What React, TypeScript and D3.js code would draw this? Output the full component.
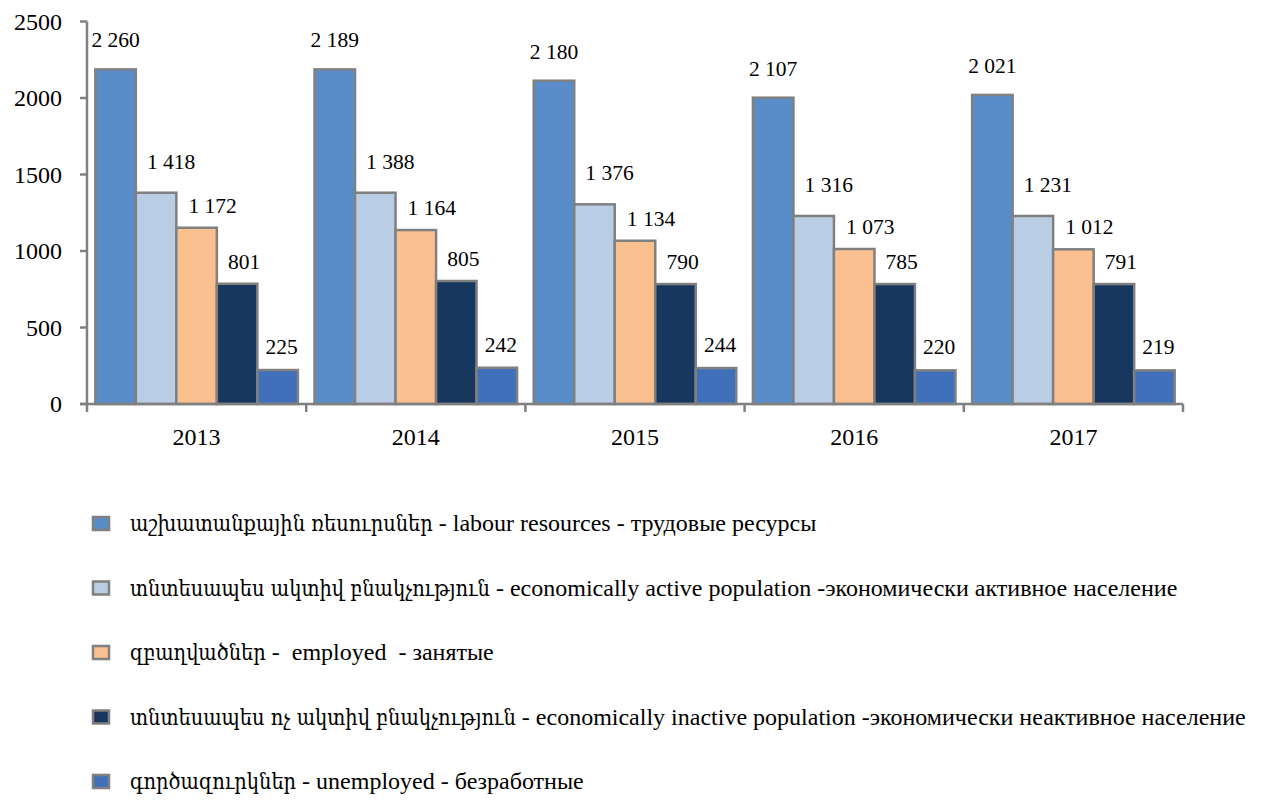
import React, { useLayoutEffect, useRef, useState } from 'react'
import * as d3 from 'd3'

const years = ['2013', '2014', '2015', '2016', '2017']

// bar heights
const labourBars = [2187, 2187, 2113, 2002, 2020]
const activeBars = [1381, 1381, 1305, 1229, 1229]
const employedBars = [1152, 1137, 1067, 1013, 1011]
const inactiveBars = [786, 804, 784, 784, 784]
const unemployedBars = [222, 237, 235, 220, 220]

// data labels printed on the chart
const labourLabels = ['2 260', '2 189', '2 180', '2 107', '2 021']
const activeLabels = ['1 418', '1 388', '1 376', '1 316', '1 231']
const employedLabels = ['1 172', '1 164', '1 134', '1 073', '1 012']
const inactiveLabels = ['801', '805', '790', '785', '791']
const unemployedLabels = ['225', '242', '244', '220', '219']

const yTicks = [0, 500, 1000, 1500, 2000, 2500]

const seriesNames = [
  'աշխատանքային ռեսուրսներ - labour resources - трудовые ресурсы',
  'տնտեսապես ակտիվ բնակչություն - economically active population -экономически активное население',
  'զբաղվածներ -  employed  - занятые',
  'տնտեսապես ոչ ակտիվ բնակչություն - economically inactive population -экономически неактивное население',
  'գործազուրկներ - unemployed - безработные',
]

const colors = ['#588DC9', '#B9CDE5', '#FAC090', '#17375E', '#3F70B9']
// label placement tweaks per series (x shift, gap above bar top)
const labelDx = [0, 15, 16, 7, 4]
const labelGap = [22, 24, 15, 15, 16]

const FONT = "'Liberation Serif'"
const ARM_FONT = "'DejaVu Serif'"
const grey = '#808080'
const armScale = 0.845

const App: React.FC = () => {
  const armRefs = useRef<(SVGTextElement | null)[]>([])
  const [armW, setArmW] = useState<number[]>(seriesNames.map(() => 0))

  useLayoutEffect(() => {
    document.body.style.margin = '0'
    setArmW(armRefs.current.map(n => (n ? n.getComputedTextLength() * armScale : 0)))
  }, [])

  const bars = [labourBars, activeBars, employedBars, inactiveBars, unemployedBars]
  const labels = [labourLabels, activeLabels, employedLabels, inactiveLabels, unemployedLabels]

  const left = 87, right = 1183, base = 404, top = 21.5

  const y = d3.scaleLinear().domain([0, 2500]).range([base, top])
  const x0 = d3.scaleBand<string>()
    .domain(years)
    .range([left, right])
    .paddingInner(0.076)
    .paddingOuter(0.038)
  const x1 = d3.scaleBand<number>()
    .domain(d3.range(bars.length))
    .range([0, x0.bandwidth()])
  const step = x0.step()

  return (
    <svg width={1266} height={803} style={{ display: 'block', background: '#fff' }}>
      {/* bars and value labels */}
      {years.map((yr, i) => (
        <g key={yr}>
          {bars.map((s, k) => {
            const bx = x0(yr)! + x1(k)!
            return (
              <g key={k}>
                <rect x={bx} y={y(s[i])} width={x1.bandwidth()} height={base - y(s[i])}
                  fill={colors[k]} stroke={grey} strokeWidth={2.5} />
                <text x={bx + x1.bandwidth() / 2 + labelDx[k]} y={y(s[i]) - labelGap[k]}
                  textAnchor="middle" fontSize={21.5} style={{ fontFamily: FONT }}>
                  {labels[k][i]}
                </text>
              </g>
            )
          })}
        </g>
      ))}

      {/* y axis */}
      <line x1={left} x2={left} y1={y(2500)} y2={base + 1} stroke={grey} strokeWidth={2.5} />
      {yTicks.map(t => (
        <g key={t}>
          <line x1={left - 7} x2={left} y1={y(t)} y2={y(t)} stroke={grey} strokeWidth={2.5} />
          <text x={62} y={y(t) + 8} textAnchor="end" fontSize={24} style={{ fontFamily: FONT }}>{t}</text>
        </g>
      ))}

      {/* x axis */}
      <line x1={left - 7} x2={right} y1={base} y2={base} stroke={grey} strokeWidth={2.5} />
      {d3.range(years.length + 1).map(j => (
        <line key={j} x1={left + j * step} x2={left + j * step} y1={base} y2={base + 8}
          stroke={grey} strokeWidth={2.5} />
      ))}
      {years.map(yr => (
        <text key={yr} x={x0(yr)! + x0.bandwidth() / 2} y={444.5} textAnchor="middle"
          fontSize={24} style={{ fontFamily: FONT }}>{yr}</text>
      ))}

      {/* legend */}
      {seriesNames.map((name, k) => {
        const cy = 524 + k * 64.5
        const cut = name.indexOf(' -')
        return (
          <g key={k}>
            <rect x={93} y={cy - 7} width={16} height={13} fill={colors[k]} stroke={grey} strokeWidth={2.5} />
            <text ref={el => { armRefs.current[k] = el }}
              transform={`translate(130,${cy + 7}) scale(${armScale},1)`}
              fontSize={23} style={{ fontFamily: ARM_FONT }}>
              {name.slice(0, cut)}
            </text>
            <text x={130 + armW[k]} y={cy + 7} fontSize={24}
              style={{ fontFamily: FONT, whiteSpace: 'pre' }}>
              {name.slice(cut)}
            </text>
          </g>
        )
      })}
    </svg>
  )
}

export default App
